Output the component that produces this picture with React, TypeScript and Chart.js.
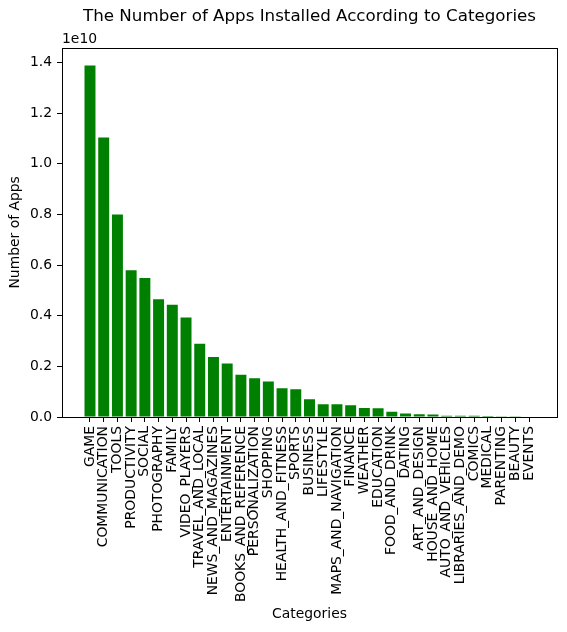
import { Chart, registerables, type Plugin } from 'chart.js';
import { type FC, useEffect, useRef } from 'react';

Chart.register(...registerables);

const categories = [
  'GAME', 'COMMUNICATION', 'TOOLS', 'PRODUCTIVITY', 'SOCIAL', 'PHOTOGRAPHY',
  'FAMILY', 'VIDEO_PLAYERS', 'TRAVEL_AND_LOCAL', 'NEWS_AND_MAGAZINES',
  'ENTERTAINMENT', 'BOOKS_AND_REFERENCE', 'PERSONALIZATION', 'SHOPPING',
  'HEALTH_AND_FITNESS', 'SPORTS', 'BUSINESS', 'LIFESTYLE',
  'MAPS_AND_NAVIGATION', 'FINANCE', 'WEATHER', 'EDUCATION', 'FOOD_AND_DRINK',
  'DATING', 'ART_AND_DESIGN', 'HOUSE_AND_HOME', 'AUTO_AND_VEHICLES',
  'LIBRARIES_AND_DEMO', 'COMICS', 'MEDICAL', 'PARENTING', 'BEAUTY', 'EVENTS',
];

// installs, in units of 1e10
const installs = [
  1.388, 1.104, 0.800, 0.579, 0.549, 0.465, 0.443, 0.393, 0.289, 0.237,
  0.211, 0.167, 0.153, 0.140, 0.114, 0.110, 0.070, 0.050, 0.050, 0.046,
  0.036, 0.035, 0.021, 0.014, 0.011, 0.010, 0.005, 0.005, 0.0045, 0.0038,
  0.0032, 0.0027, 0.0016,
];

const yTicks = [0, 0.2, 0.4, 0.6, 0.8, 1.0, 1.2, 1.4];

const FONT = 'DejaVu Sans';

const framePlugin: Plugin = {
  id: 'frame',
  afterDraw(chart) {
    const { ctx, chartArea } = chart;
    ctx.save();
    ctx.strokeStyle = '#000';
    ctx.lineWidth = 1;
    ctx.strokeRect(
      Math.round(chartArea.left) + 0.5,
      Math.round(chartArea.top) + 0.5,
      Math.round(chartArea.right - chartArea.left),
      Math.round(chartArea.bottom - chartArea.top),
    );
    // offset text of the y axis
    ctx.fillStyle = '#000';
    ctx.font = `13.9px "${FONT}"`;
    ctx.textAlign = 'left';
    ctx.textBaseline = 'alphabetic';
    ctx.fillText('1e10', chartArea.left, chartArea.top - 5);
    ctx.restore();
  },
};

const App: FC = () => {
  const canvasRef = useRef<HTMLCanvasElement>(null);
  const chartRef = useRef<Chart | null>(null);

  useEffect(() => {
    if (!canvasRef.current) return;
    const context = canvasRef.current.getContext('2d');
    if (!context) return;

    chartRef.current = new Chart(context, {
      type: 'bar',
      data: {
        datasets: [
          {
            label: 'Installs',
            data: installs.map((v, i) => ({ x: i, y: v * 1e10 })),
            backgroundColor: '#008000',
            borderWidth: 0,
            categoryPercentage: 1,
            barPercentage: 0.8,
          },
        ],
      },
      options: {
        responsive: false,
        animation: false,
        color: '#000',
        layout: { padding: { left: 0, right: 10, top: 0, bottom: 0 } },
        plugins: {
          legend: { display: false },
          tooltip: { enabled: false },
          title: {
            display: true,
            fullSize: false,
            text: 'The Number of Apps Installed According to Categories',
            color: '#000',
            font: { family: FONT, size: 16.7, weight: 'normal' },
            padding: { top: 7, bottom: 20.7 },
          },
        },
        scales: {
          x: {
            type: 'linear',
            min: -2.04,
            max: 34.04,
            offset: false,
            afterFit: (scale) => {
              scale.height = 215;
            },
            afterBuildTicks: (axis) => {
              axis.ticks = categories.map((_, i) => ({ value: i }));
            },
            border: { display: false },
            grid: {
              offset: false,
              drawOnChartArea: false,
              drawTicks: true,
              tickLength: 5,
              tickColor: '#000',
              tickWidth: 1,
            },
            ticks: {
              autoSkip: false,
              maxRotation: 90,
              minRotation: 90,
              padding: 4,
              color: '#000',
              font: { family: FONT, size: 13.9 },
              callback: (value) => categories[Number(value)] ?? '',
            },
            title: {
              display: true,
              text: 'Categories',
              color: '#000',
              font: { family: FONT, size: 13.9 },
              padding: { top: 0, bottom: 9.6 },
            },
          },
          y: {
            min: 0,
            max: 1.458e10,
            afterFit: (scale) => {
              scale.width = 62;
            },
            afterBuildTicks: (axis) => {
              axis.ticks = yTicks.map((t) => ({ value: t * 1e10 }));
            },
            border: { display: false },
            grid: {
              drawOnChartArea: false,
              drawTicks: true,
              tickLength: 5,
              tickColor: '#000',
              tickWidth: 1,
            },
            ticks: {
              padding: 5,
              color: '#000',
              font: { family: FONT, size: 13.9 },
              callback: (value) => (Number(value) / 1e10).toFixed(1),
            },
            title: {
              display: true,
              text: 'Number of Apps',
              color: '#000',
              font: { family: FONT, size: 13.9 },
              padding: { top: 7, bottom: 0 },
            },
          },
        },
      },
      plugins: [framePlugin],
    });

    return () => {
      chartRef.current?.destroy();
    };
  }, []);

  return (
    <div style={{ position: 'fixed', left: 0, top: 0, width: 567, height: 632, background: '#fff' }}>
      <canvas ref={canvasRef} width={567} height={632} />
    </div>
  );
};

export default App;
